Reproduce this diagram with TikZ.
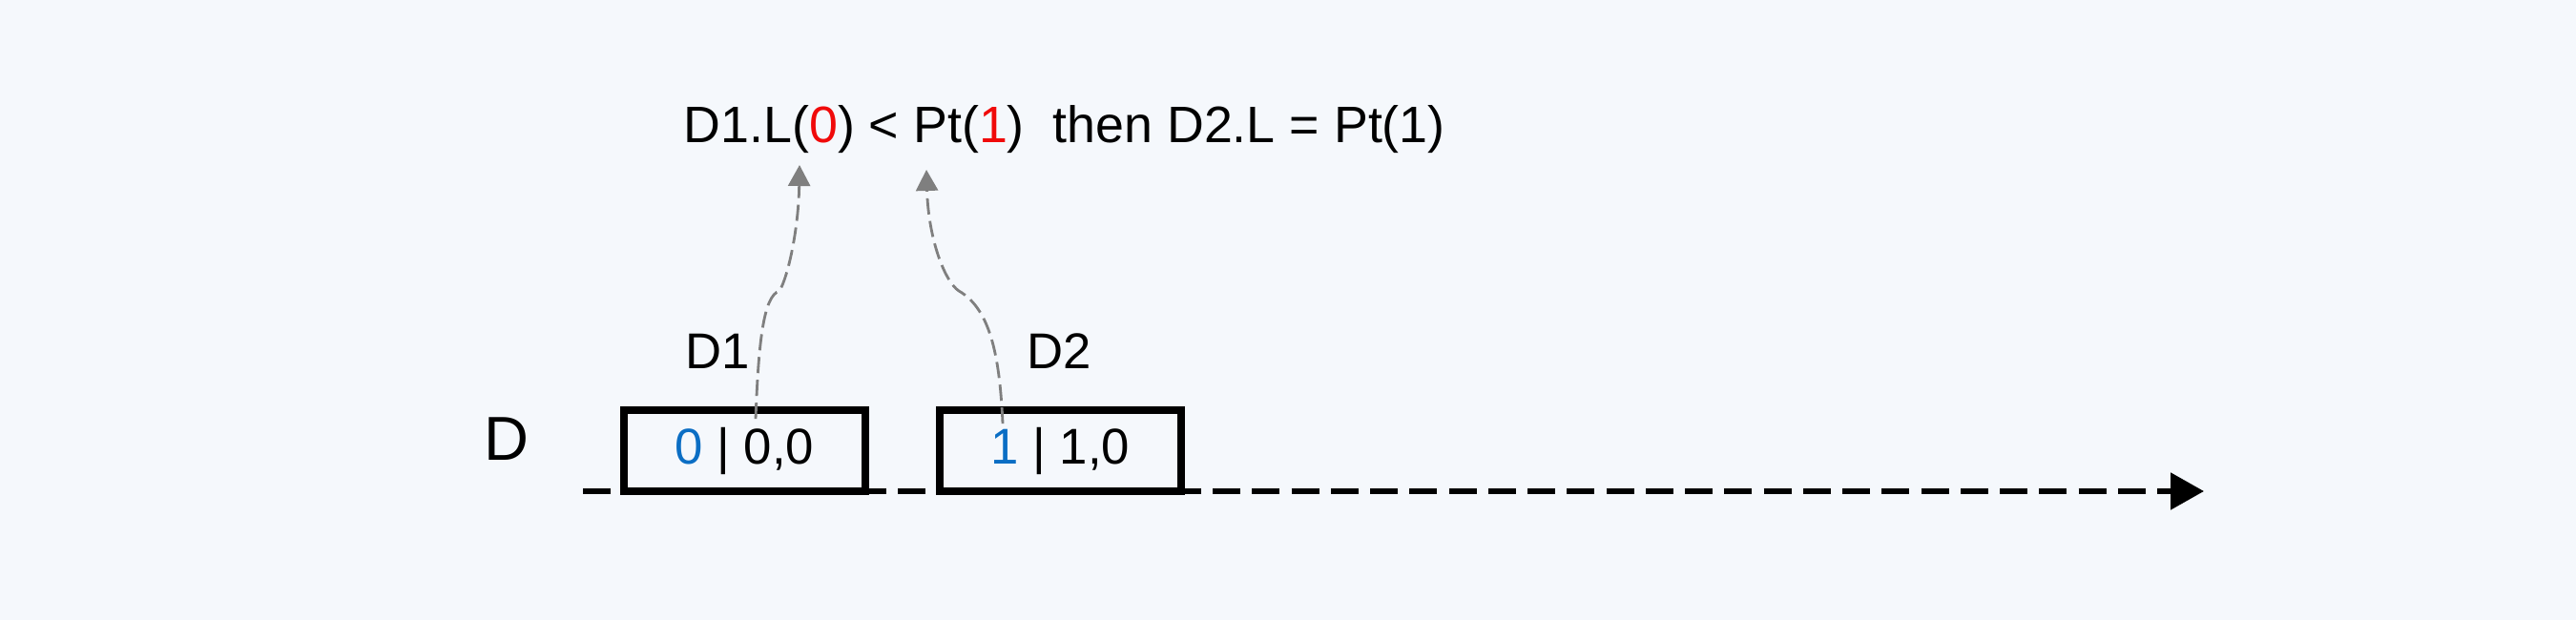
\documentclass[tikz,border=0pt]{standalone}
\usepackage{fontspec}
\setmainfont{Liberation Sans}
\usepackage{tikz}
\usetikzlibrary{positioning,calc,arrows.meta}
\definecolor{background}{HTML}{F5F8FC}
\definecolor{red}{HTML}{F00A0A}
\definecolor{blue}{HTML}{0B6EC4}
\definecolor{gray}{HTML}{7F7F7F}
\tikzstyle{segment_box}=[rectangle, draw, line width=2.2pt, minimum width=2.53cm, minimum height=0.85cm, inner sep=0mm, fill=background, font=\fontsize{15pt}{18pt}\selectfont]
\tikzstyle{segment_label}=[inner sep=0mm, anchor=base, font=\fontsize{15pt}{18pt}\selectfont]
\tikzstyle{timeline}=[line width=1.5pt, dash pattern=on 0.29cm off 0.1225cm, -{Triangle[length=0.35cm,width=0.38cm]}]
\tikzstyle{lookup_arrow}=[draw=gray, line width=0.8pt, dash pattern=on 0.17cm off 0.07cm, -{Triangle[length=0.22cm,width=0.23cm]}]

\begin{document}
\begin{tikzpicture}

            % Canvas
            \fill[background] (0,0) rectangle (27,6.5);
            \useasboundingbox (0,0) rectangle (27,6.5);

            % Timeline
            \coordinate (timeline_start) at (6.11,1.35);
            \coordinate (timeline_end) at (23.10,1.35);
            \draw[timeline] (timeline_start) -- (timeline_end);

            % Segments
            \node[segment_box] (d1_box) at (7.805,1.775) {\textcolor{blue}{0} | 0,0};
            \node[segment_box] (d2_box) at (11.115,1.775) {\textcolor{blue}{1} | 1,0};

            % Labels
            \node[segment_label,font=\fontsize{18.5pt}{22pt}\selectfont] (d_label) at (5.31,1.67) {D};
            \node[segment_label] (d1_label) at (7.52,2.63) {D1};
            \node[segment_label] (d2_label) at (11.10,2.63) {D2};

            % Condition
            \node[segment_label,anchor=base west,font=\fontsize{15.3pt}{18pt}\selectfont] (condition) at (7.16,5.0) {D1.L(\textcolor{red}{0}) < Pt(\textcolor{red}{1})\ \ then D2.L = Pt(1)};

            % Lookups
            \coordinate (d1_link) at ($(d1_box.north)+(0.115,-0.13)$);
            \coordinate (d2_link) at ($(d2_box.north)+(-0.605,-0.18)$);
            \coordinate (d1_target) at ($(condition.base west)+(1.22,-0.23)$);
            \coordinate (d2_target) at ($(condition.base west)+(2.55,-0.28)$);
            \draw[lookup_arrow] (d1_link) .. controls (7.95,2.90) and (8.00,3.40) .. (8.17,3.45) .. controls (8.26,3.60) and (8.37,4.10) .. (d1_target);
            \draw[lookup_arrow] (d2_link) .. controls (10.48,2.70) and (10.40,3.25) .. (10.05,3.45) .. controls (9.90,3.55) and (9.73,4.00) .. (d2_target);

        \end{tikzpicture}
\end{document}
